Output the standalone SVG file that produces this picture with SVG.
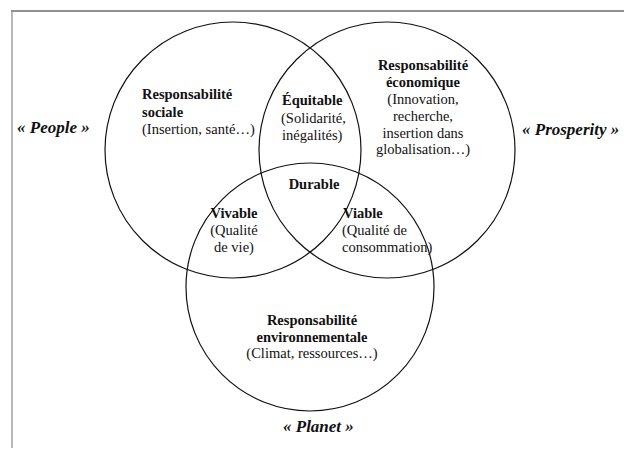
<svg xmlns="http://www.w3.org/2000/svg" width="624" height="452" viewBox="0 0 624 452">
<style>
.c{fill:none;stroke:#111;stroke-width:1.2}
text{font-family:"Liberation Serif","Times New Roman",serif;font-size:14.5px;fill:#111}
.b{font-weight:bold}
.l{font-weight:bold;font-style:italic;font-size:17px}
.m{text-anchor:middle}
</style>
<rect width="624" height="452" fill="#fff"/>
<g id="frame">
<line x1="11" y1="11" x2="624" y2="11" stroke="#222" stroke-width="1.2"/>
<line x1="12" y1="11" x2="12" y2="448" stroke="#888" stroke-width="1.2"/>
</g>
<g id="connectors"></g>
<g id="social">
<circle class="c" cx="233" cy="150" r="128"/>
<text class="b" x="142" y="99">Responsabilité</text>
<text class="b" x="142" y="117">sociale</text>
<text x="142" y="134">(Insertion, santé…)</text>
</g>
<g id="economique">
<circle class="c" cx="387" cy="150" r="128"/>
<text class="b m" x="423" y="70">Responsabilité</text>
<text class="b m" x="423" y="87">économique</text>
<text class="m" x="423" y="104">(Innovation,</text>
<text class="m" x="423" y="121">recherche,</text>
<text class="m" x="423" y="138">insertion dans</text>
<text class="m" x="423" y="154">globalisation…)</text>
</g>
<g id="environnement">
<circle class="c" cx="310" cy="287" r="124"/>
<text class="b m" x="312" y="325">Responsabilité</text>
<text class="b m" x="312" y="342">environnementale</text>
<text class="m" x="312" y="358">(Climat, ressources…)</text>
</g>
<g id="equitable">
<text class="b" x="282" y="105">Équitable</text>
<text x="281" y="123">(Solidarité,</text>
<text x="282" y="140">inégalités)</text>
</g>
<g id="durable">
<text class="b m" x="314" y="189">Durable</text>
</g>
<g id="vivable">
<text class="b m" x="234" y="218">Vivable</text>
<text class="m" x="234" y="235">(Qualité</text>
<text class="m" x="234" y="252">de vie)</text>
</g>
<g id="viable">
<text class="b" x="343" y="218">Viable</text>
<text x="342" y="235">(Qualité de</text>
<text x="342" y="252">consommation)</text>
</g>
<g id="people"><text class="l" x="17" y="133">« People »</text></g>
<g id="prosperity"><text class="l" x="522" y="135">« Prosperity »</text></g>
<g id="planet"><text class="l" x="283" y="432">« Planet »</text></g>
</svg>
